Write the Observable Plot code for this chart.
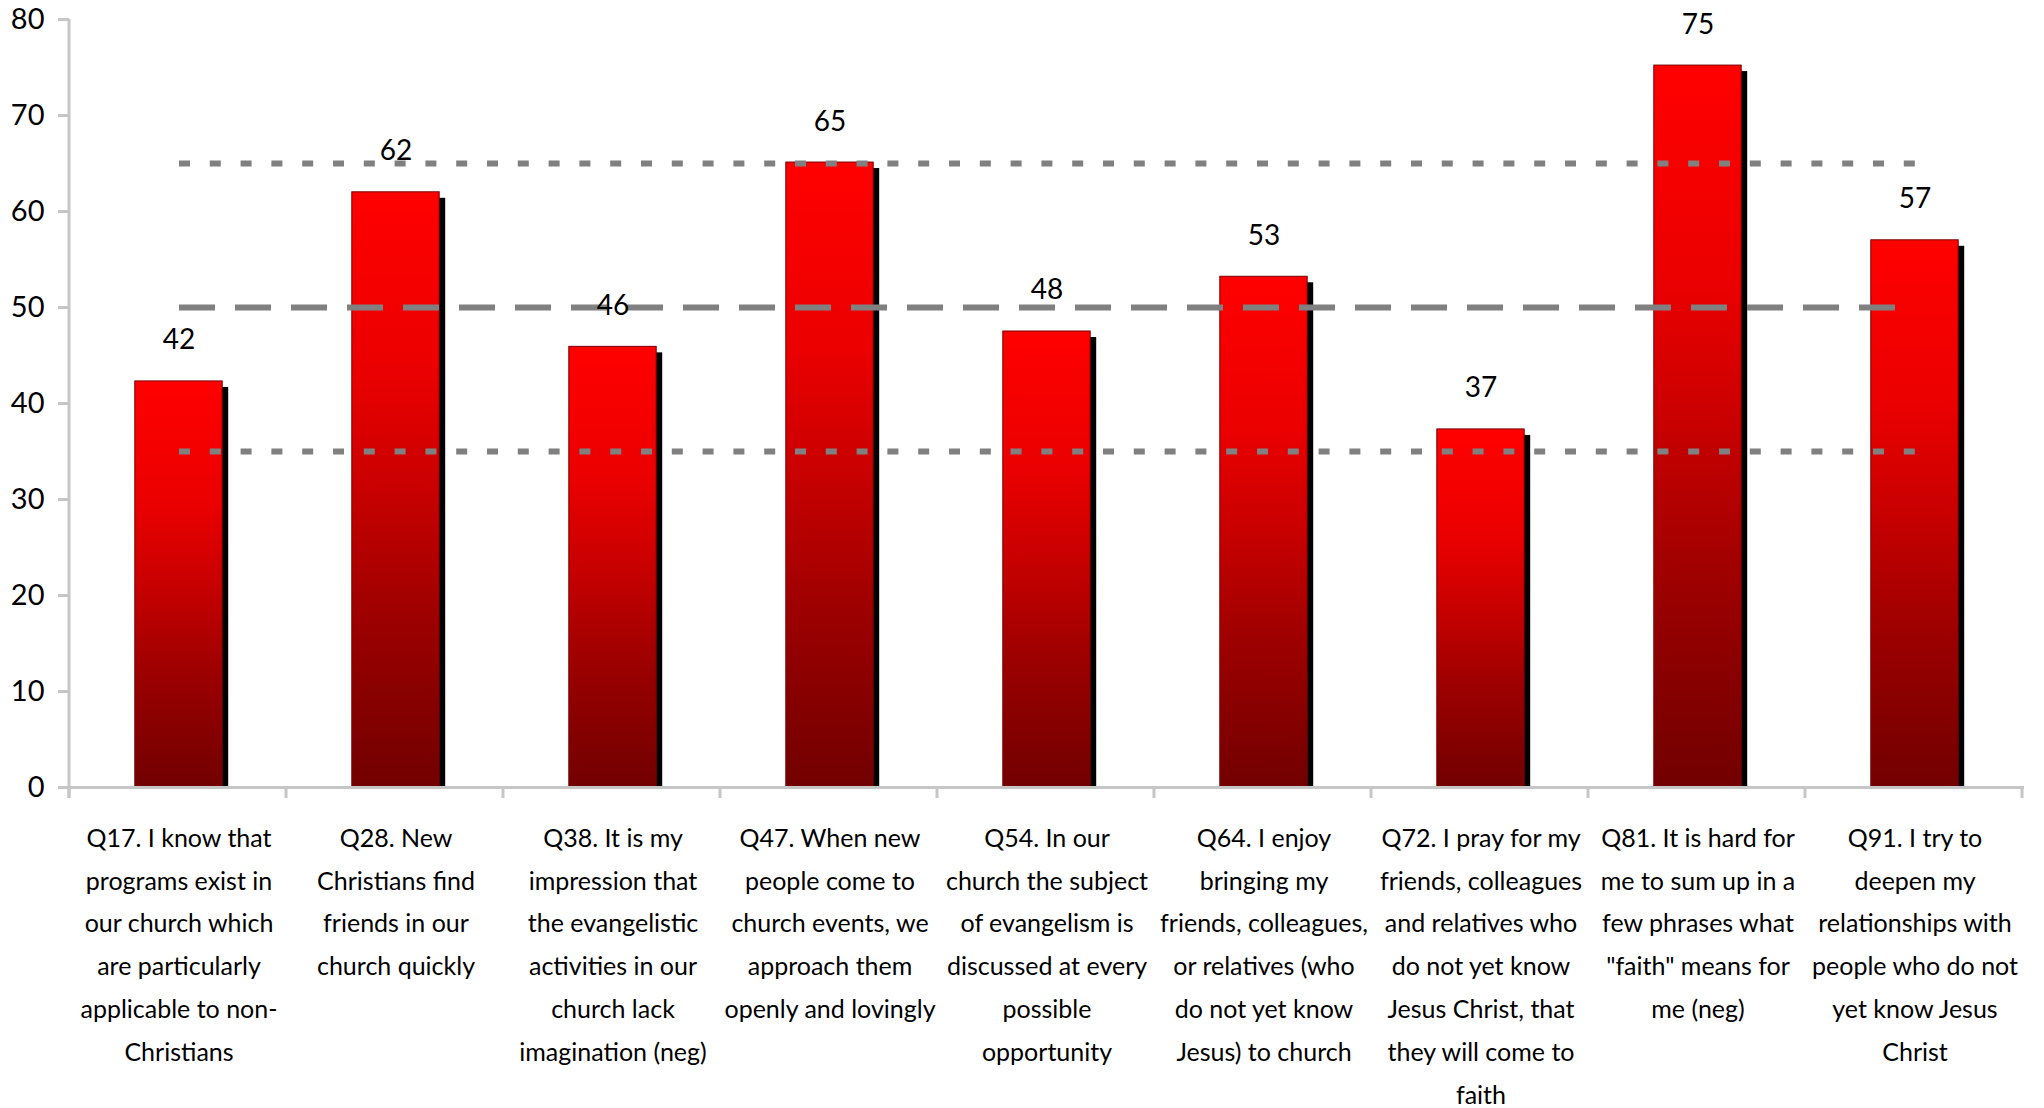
<!DOCTYPE html>
<html><head><meta charset="utf-8">
<script src="https://cdn.jsdelivr.net/npm/d3@7"></script>
<script src="https://cdn.jsdelivr.net/npm/@observablehq/plot@0.6"></script>
<style>html,body{margin:0;padding:0;background:#fff} svg{display:block}</style>
</head><body><div id="chart"></div>
<script>
const categories = ["Q17", "Q28", "Q38", "Q47", "Q54", "Q64", "Q72", "Q81", "Q91"];
const tickLabels = [
  "Q17. I know that\nprograms exist in\nour church which\nare particularly\napplicable to non-\nChristians",
  "Q28. New\nChristians find\nfriends in our\nchurch quickly",
  "Q38. It is my\nimpression that\nthe evangelistic\nactivities in our\nchurch lack\nimagination (neg)",
  "Q47. When new\npeople come to\nchurch events, we\napproach them\nopenly and lovingly",
  "Q54. In our\nchurch the subject\nof evangelism is\ndiscussed at every\npossible\nopportunity",
  "Q64. I enjoy\nbringing my\nfriends, colleagues,\nor relatives (who\ndo not yet know\nJesus) to church",
  "Q72. I pray for my\nfriends, colleagues\nand relatives who\ndo not yet know\nJesus Christ, that\nthey will come to\nfaith",
  "Q81. It is hard for\nme to sum up in a\nfew phrases what\n\"faith\" means for\nme (neg)",
  "Q91. I try to\ndeepen my\nrelationships with\npeople who do not\nyet know Jesus\nChrist"
];
const values = [42.3, 62.0, 45.9, 65.1, 47.5, 53.2, 37.3, 75.2, 57.0];
const valueLabels = ["42", "62", "46", "65", "48", "53", "37", "75", "57"];
const refValues = [65, 50, 35];
const refDash = ["11,19.8", "36,20", "11,19.8"];
const yTicks = [0, 10, 20, 30, 40, 50, 60, 70, 80];

const data = categories.map((c, i) => ({key: c, value: values[i], label: valueLabels[i]}));
const labelMap = new Map(categories.map((c, i) => [c, tickLabels[i]]));
const refMarks = refValues.map((v, i) =>
  Plot.lineY(categories.map(c => ({key: c, value: v})), {
    x: "key", y: "value", stroke: "#808080", strokeWidth: 6,
    strokeDasharray: refDash[i], strokeLinecap: "butt"
  })
);

const FONT = "Lato, 'Open Sans', sans-serif";
const inset = 64.8;

const plot = Plot.plot({
  width: 2044, height: 1108,
  marginLeft: 69, marginRight: 20, marginTop: 19, marginBottom: 321,
  style: {fontFamily: FONT, fontSize: "28px", color: "#000", background: "#fff", overflow: "visible"},
  x: {domain: categories, padding: 0, axis: null},
  y: {domain: [0, 80], axis: null},
  marks: [
    Plot.barY(data, {x: "key", y: "value", fill: "#000", insetLeft: inset, insetRight: inset, insetBottom: 6, dx: 6, dy: 6}),
    Plot.barY(data, {x: "key", y: "value", fill: "url(#barGrad)", stroke: "#7a0000", strokeWidth: 1, insetLeft: inset, insetRight: inset}),
    ...refMarks,
    Plot.text(data, {x: "key", y: "value", text: "label", dy: -41, fontSize: 28, fill: "#000"}),
    Plot.ruleY([0], {stroke: "#c6c6c6", strokeWidth: 3}),
    Plot.axisY({ticks: yTicks, tickSize: 11, tickPadding: 14, stroke: "#c6c6c6", strokeWidth: 3, fill: "#000", fontSize: 29, label: null}),
    Plot.axisX({tickFormat: d => labelMap.get(d), tickSize: 0, tickPadding: 29, lineHeight: 42.8 / 25, fontSize: 25, fill: "#000", label: null})
  ]
});

const svg = d3.select(plot);
const defs = svg.insert("defs", ":first-child");
const grad = defs.append("linearGradient").attr("id", "barGrad")
  .attr("x1", 0).attr("y1", 0).attr("x2", 0).attr("y2", 1);
[[0, "#ff0000"], [0.3, "#eb0000"], [0.5, "#c80000"], [0.7, "#a00000"], [0.85, "#880000"], [1, "#720000"]]
  .forEach(([o, c]) => grad.append("stop").attr("offset", o).attr("stop-color", c));

// axis line on left and band-boundary ticks on bottom, from Plot's scales
const xs = plot.scale("x"), ys = plot.scale("y");
const y0 = ys.apply(0), yTop = ys.apply(80);
const x0 = xs.range[0];
const g = svg.append("g").attr("stroke", "#c6c6c6").attr("stroke-width", 3);
g.append("line").attr("x1", x0).attr("x2", x0).attr("y1", yTop).attr("y2", y0 + 11);
d3.range(categories.length + 1).forEach(i => {
  const x = x0 + i * xs.step;
  g.append("line").attr("x1", x).attr("x2", x).attr("y1", y0).attr("y2", y0 + 11);
});

document.getElementById("chart").appendChild(plot);
</script>
</body></html>
